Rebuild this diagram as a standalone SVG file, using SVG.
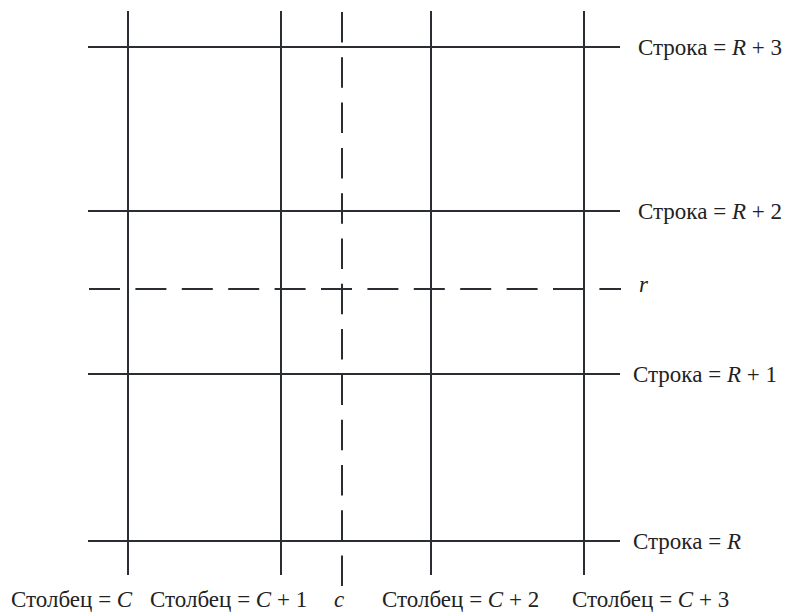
<svg xmlns="http://www.w3.org/2000/svg" width="787" height="612" viewBox="0 0 787 612">
<style>
.ln{stroke:#2a2d31;stroke-width:2;fill:none}
.dh{stroke:#2a2d31;stroke-width:2;fill:none;stroke-dasharray:31 15.4}
.dv{stroke:#2a2d31;stroke-width:2;fill:none;stroke-dasharray:30.5 14.8}
.t{font-family:"Liberation Serif","Times New Roman",serif;font-size:23px;fill:#222}
.i{font-style:italic}
</style>
<rect width="787" height="612" fill="#fff"/>
<g id="connectors">
<line class="ln" x1="88" y1="47" x2="620" y2="47"/>
<line class="ln" x1="88" y1="211" x2="620" y2="211"/>
<line class="ln" x1="88" y1="374" x2="620" y2="374"/>
<line class="ln" x1="88" y1="541" x2="620" y2="541"/>
<line class="dh" x1="89" y1="289" x2="621" y2="289"/>
<line class="ln" x1="128" y1="11" x2="128" y2="575"/>
<line class="ln" x1="281" y1="11" x2="281" y2="575"/>
<line class="ln" x1="431" y1="11" x2="431" y2="575"/>
<line class="ln" x1="584" y1="11" x2="584" y2="575"/>
<line class="dv" x1="342" y1="12" x2="342" y2="587"/>
</g>
<g id="row-labels">
<text class="t" x="638" y="55">Строка = <tspan class="i">R</tspan> + 3</text>
<text class="t" x="638" y="219">Строка = <tspan class="i">R</tspan> + 2</text>
<text class="t i" x="639" y="292">r</text>
<text class="t" x="633" y="382">Строка = <tspan class="i">R</tspan> + 1</text>
<text class="t" x="633" y="549">Строка = <tspan class="i">R</tspan></text>
</g>
<g id="col-labels">
<text class="t" x="11" y="607">Столбец = <tspan class="i">C</tspan></text>
<text class="t" x="150" y="607">Столбец = <tspan class="i">C</tspan> + 1</text>
<text class="t i" x="334" y="607">c</text>
<text class="t" x="382" y="607">Столбец = <tspan class="i">C</tspan> + 2</text>
<text class="t" x="572" y="607">Столбец = <tspan class="i">C</tspan> + 3</text>
</g>
</svg>
